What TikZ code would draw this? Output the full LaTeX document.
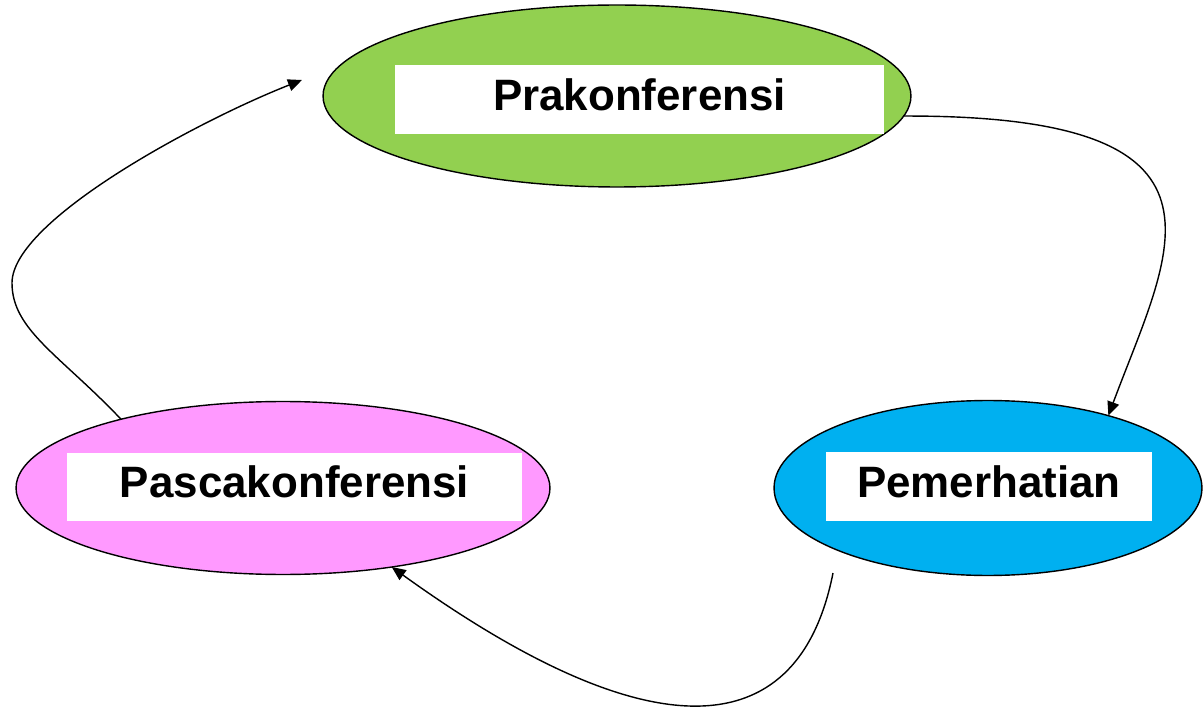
\documentclass[tikz,border=0pt]{standalone}
\usepackage{fontspec}
\setmainfont{Liberation Sans}
\usetikzlibrary{shapes.geometric,arrows.meta}

\definecolor{hijau}{HTML}{92D050}
\definecolor{merahmuda}{HTML}{FF99FF}
\definecolor{biru}{HTML}{00B0F0}

\def\lw{0.8pt}

\begin{document}
\begin{tikzpicture}[x=0.02cm,y=-0.02cm,
    tahap/.style={draw=black,line width=\lw,ellipse,inner sep=0pt,outer sep=0pt},
    kotak/.style={fill=white,inner sep=0pt,minimum height=1.38cm,text depth=0.2cm,font=\fontsize{25}{30}\selectfont\bfseries},
    panah/.style={line width=\lw,-{Triangle[length=0.28cm,width=0.24cm]}}]
    \useasboundingbox (0,0) rectangle (1203,709);

    % tahap-tahap
    \node[tahap,fill=hijau,minimum width=11.76cm,minimum height=3.64cm] (prakonf) at (617,96) {};
    \node[tahap,fill=biru,minimum width=8.56cm,minimum height=3.5cm] (pemer) at (988,488) {};
    \node[tahap,fill=merahmuda,minimum width=10.68cm,minimum height=3.46cm] (pasca) at (283,488) {};

    \node[kotak,minimum width=9.78cm] (prakonfbox) at (639.5,99.5) {Prakonferensi};
    \node[kotak,minimum width=6.52cm] (pemerbox) at (989,486.5) {Pemerhatian};
    \node[kotak,minimum width=9.1cm,minimum height=1.36cm] (pascabox) at (294.5,487) {Pascakonferensi};

    % siklus
    \coordinate (lepas) at (833,573);
    \coordinate (ujung) at (302,80);
    \draw[panah] (prakonf.-4) .. controls (1255,115) and (1170,250) .. (pemer.31);
    \draw[panah] (lepas) .. controls (800,740) and (660,760) .. (pasca.-36);
    \draw[panah] (pasca.157) .. controls (60,355) and (12,330) .. (12,283)
        .. controls (12,220) and (200,120) .. (ujung);
\end{tikzpicture}
\end{document}
